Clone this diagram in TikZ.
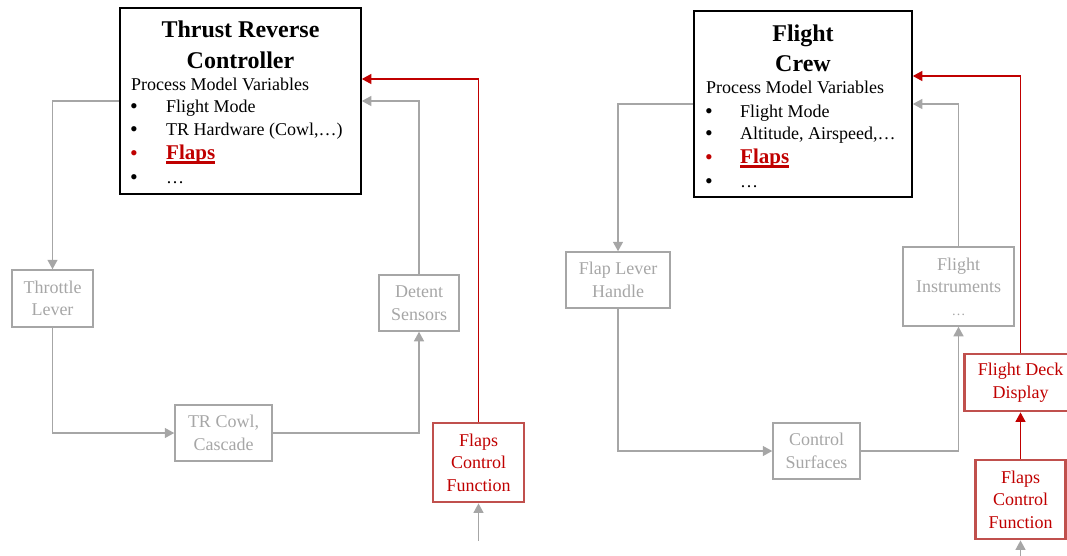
\documentclass[tikz,border=0pt]{standalone}
\usepackage{fontspec}
\setmainfont{Liberation Serif}
\usetikzlibrary{arrows.meta}

\definecolor{linegray}{HTML}{A6A6A6}
\definecolor{boxred}{HTML}{C0504D}
\definecolor{txtred}{HTML}{C00000}

% red underlined bold entry
\newcommand\redul[1]{\setbox0=\hbox{#1}\rlap{\rule[-4.6pt]{\wd0}{2.2pt}}\box0}
\newcommand\bodyfont{\fontsize{18}{22.5}\selectfont}

\tikzset{
  x=1pt, y=-1pt,
  ctrlbox/.style={draw=black, line width=1.6pt, inner sep=0pt},
  graybox/.style={draw=linegray, line width=1.5pt, inner sep=0pt, align=center,
    text=linegray, font=\bodyfont},
  redbox/.style={draw=boxred, line width=2.8pt, inner sep=0pt, align=center,
    text=txtred, font=\bodyfont},
  title/.style={anchor=base, inner sep=0pt, font=\fontsize{24}{29}\selectfont\bfseries},
  item/.style={anchor=base west, inner sep=0pt, font=\bodyfont},
  bullet/.style={anchor=base west, inner sep=0pt, font=\fontsize{22}{22}\selectfont},
  flapsitem/.style={anchor=base west, inner sep=0pt, text=txtred,
    font=\fontsize{21}{25}\selectfont\bfseries},
  garrow/.style={draw=linegray, line width=1.3pt,
    -{Triangle[length=9.5pt,width=10pt]}},
  rarrow/.style={draw=txtred, line width=1.3pt,
    -{Triangle[length=9.5pt,width=10pt]}},
}

\begin{document}
\begin{tikzpicture}
\useasboundingbox (0,0) rectangle (1067,555);

% ---------------- Thrust reverse loop ----------------
\node[ctrlbox, minimum width=241pt, minimum height=186pt] (ctrlL) at (240.5,101) {};
\node[title] (ctrlLt1) at (240.5,37) {Thrust Reverse};
\node[title] (ctrlLt2) at (240.5,68) {Controller};
\node[item] (ctrlLpmv) at (131,90) {Process Model Variables};
\node[bullet] (ctrlLb1) at (130,113) {•};
\node[item] (ctrlLi1) at (166,112) {Flight Mode};
\node[bullet] (ctrlLb2) at (130,136) {•};
\node[item] (ctrlLi2) at (166,135) {TR Hardware (Cowl,…)};
\node[bullet, text=txtred] (ctrlLb3) at (130,160) {•};
\node[flapsitem] (ctrlLi3) at (166,159) {\redul{Flaps}};
\node[bullet] (ctrlLb4) at (130,184) {•};
\node[item] (ctrlLi4) at (166,183) {…};

\node[graybox, minimum width=81pt, minimum height=57pt] (thr) at (52.5,298.5) {Throttle\\Lever};
\node[graybox, minimum width=80pt, minimum height=56pt] (det) at (419,303) {Detent\\Sensors};
\node[graybox, minimum width=97pt, minimum height=56pt] (cowl) at (223.5,433) {TR Cowl,\\Cascade};
\node[redbox, minimum width=91pt, minimum height=79pt] (fcfL) at (478.5,462.5) {Flaps\\Control\\Function};
\coordinate (inL) at (478.5,541);

\draw[garrow] (ctrlL.west) -| (thr.north);
\draw[garrow] (thr.south) |- (cowl.west);
\draw[garrow] (cowl.east) -| (det.south);
\draw[garrow] (det.north) |- (ctrlL.east);
\draw[rarrow] (fcfL.north) |- ([yshift=22pt]ctrlL.east);
\draw[garrow] (inL) -- (fcfL.south);

% ---------------- Flight crew loop ----------------
\node[ctrlbox, minimum width=218pt, minimum height=186pt] (crew) at (803,104) {};
\node[title] (crewt1) at (803,41) {Flight};
\node[title] (crewt2) at (803,71) {Crew};
\node[item] (crewpmv) at (706,93) {Process Model Variables};
\node[bullet] (crewb1) at (705,118) {•};
\node[item] (crewi1) at (740,117) {Flight Mode};
\node[bullet] (crewb2) at (705,140) {•};
\node[item] (crewi2) at (740,139) {Altitude, Airspeed,…};
\node[bullet, text=txtred] (crewb3) at (705,164) {•};
\node[flapsitem] (crewi3) at (740,163) {\redul{Flaps}};
\node[bullet] (crewb4) at (705,188) {•};
\node[item] (crewi4) at (740,187) {…};

\node[graybox, minimum width=104pt, minimum height=56pt] (flh) at (618,280) {Flap Lever\\Handle};
\node[graybox, minimum width=87pt, minimum height=56pt] (cs) at (816.5,451) {Control\\Surfaces};
\node[graybox, minimum width=111pt, minimum height=79pt] (fi) at (958.5,286.5) {Flight\\Instruments\\{\fontsize{14}{22.5}\selectfont …}};
\node[redbox, minimum width=112pt, minimum height=57pt] (fdd) at (1020.5,382.5) {Flight Deck\\Display};
\node[redbox, minimum width=90pt, minimum height=79pt] (fcfR) at (1020.5,499.5) {Flaps\\Control\\Function};
\coordinate (inR) at (1020.5,557);

\draw[garrow] (crew.west) -| (flh.north);
\draw[garrow] (flh.south) |- (cs.west);
\draw[garrow] (cs.east) -| (fi.south);
\draw[garrow] (fi.north) |- (crew.east);
\draw[rarrow] (fdd.north) |- ([yshift=28pt]crew.east);
\draw[rarrow] (fcfR.north) -- (fdd.south);
\draw[garrow] (inR) -- (fcfR.south);
\end{tikzpicture}
\end{document}
